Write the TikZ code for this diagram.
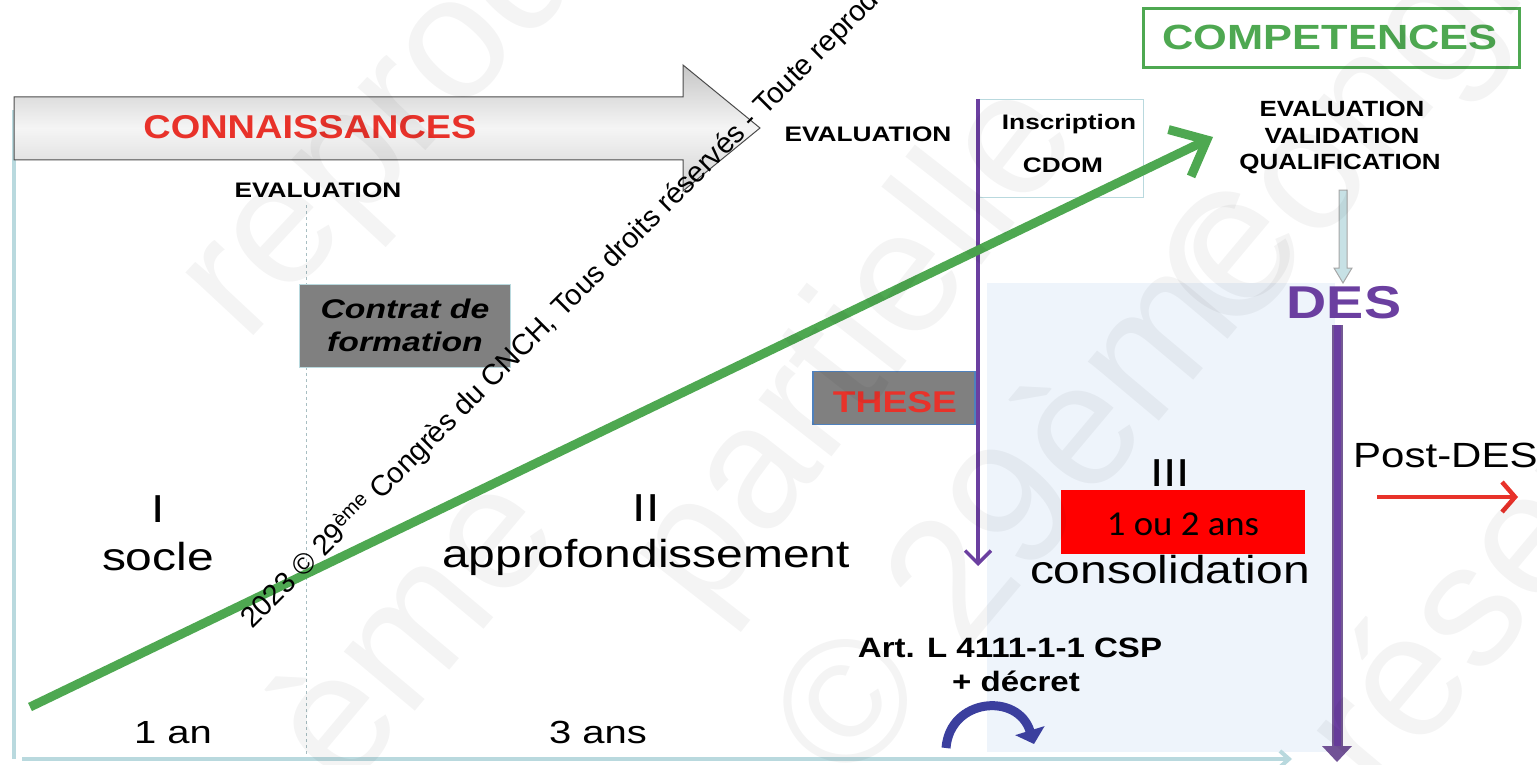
\documentclass[tikz,border=0pt]{standalone}
\usepackage{fontspec}
\setmainfont{Liberation Sans}
\newfontfamily\calib{Carlito}
\usetikzlibrary{arrows.meta}
\definecolor{cred}{HTML}{E8322A}
\definecolor{cgreen}{HTML}{4EA851}
\definecolor{cpurple}{HTML}{6B3FA0}
\definecolor{lblue}{HTML}{B9D9DE}
\definecolor{bgblue}{HTML}{EEF4FB}
\definecolor{tblue}{HTML}{4F81BD}
\definecolor{cgray}{HTML}{808080}
\definecolor{arcblue}{HTML}{3B3F9E}
\newcommand{\hs}[2]{\scalebox{#1}[1]{#2}}
\newcommand{\fs}[1]{\fontsize{#1}{#1}\selectfont}
\begin{document}
\begin{tikzpicture}[x=1pt,y=-1pt,
  lbl/.style={inner sep=0pt, anchor=base},
  bigtxt/.style={lbl, font=\fs{39}},
  boldtxt/.style={lbl, font=\bfseries\fs{21}},
  faint/.style={inner sep=0pt, anchor=base west, font=\fs{175}, text=black, text opacity=0.045},
]
\useasboundingbox (0,0) rectangle (1537,765);
\clip (0,0) rectangle (1537,765);

% consolidation background
\fill[bgblue] (987,283) rectangle (1335,752);

% axes
\coordinate (axtop) at (14,110);
\coordinate (axorig) at (14,759);
\coordinate (axend) at (1292,759);
\draw[lblue, line width=4] (axtop) -- (axorig);
\draw[lblue, line width=4, -{Straight Barb[length=9,width=16]}] (22,759) -- (axend);
\draw[lblue!70!gray, dashed, line width=0.8] (306,205) -- (306,755);

% big grey arrow
\shade[draw=gray!60!black, line width=1, top color=gray!45, bottom color=gray!35, middle color=gray!8]
  (14,97) -- (683,97) -- (683,65) -- (760,128) -- (683,191) -- (683,160) -- (14,160) -- cycle;
\node[lbl, font=\bfseries\fs{33}, text=cred] (conn) at (310,139) {\hs{1.15}{CONNAISSANCES}};

\node[boldtxt] (eval1) at (318,197) {\hs{1.25}{EVALUATION}};
\node[boldtxt] (eval2) at (868,142) {\hs{1.25}{EVALUATION}};

% Inscription box
\node[draw=lblue, line width=1.2, minimum width=166, minimum height=98, inner sep=0, anchor=north west] (insc) at (977,99) {};
\node[boldtxt] (inscr) at (1069,130) {\hs{1.25}{Inscription}};
\node[boldtxt] (cdom) at (1063,172) {\hs{1.25}{CDOM}};

% COMPETENCES
\node[draw=cgreen, line width=3, minimum width=376, minimum height=59, inner sep=0] (comp) at (1331,38) {};
\node[lbl, font=\bfseries\fs{35}, text=cgreen] (compt) at (1330,50) {\hs{1.24}{COMPETENCES}};

\node[lbl, font=\bfseries\fs{22}] (ev3) at (1342,117) {\hs{1.18}{EVALUATION}};
\node[lbl, font=\bfseries\fs{22}] (val) at (1342,143) {\hs{1.18}{VALIDATION}};
\node[lbl, font=\bfseries\fs{22}] (qual) at (1340,169) {\hs{1.18}{QUALIFICATION}};

% DES
\node[lbl, font=\bfseries\fs{46}, text=cpurple] (des) at (1344,318) {\hs{1.21}{DES}};

% small grey arrow qual -> des
\filldraw[fill=lblue!80!white, draw=gray!70, line width=1]
  (1339,190) -- (1347,190) -- (1347,268) -- (1352,268) -- (1343,283) -- (1334,268) -- (1339,268) -- cycle;

% thick purple arrow from DES
\coordinate (dtop) at (1337,325);
\coordinate (dbot) at (1337,748);
\draw[cpurple!60!gray, line width=11] (dtop) -- (dbot);
\draw[cpurple, line width=7] (dtop) -- (dbot);
\fill[cpurple!70!gray] (1322,746) -- (1352,746) -- (1337,762) -- cycle;

% Post-DES
\node[lbl, anchor=base west, font=\fs{35}] (post) at (1353,467) {\hs{1.2}{Post-DES}};
\coordinate (pa) at (1377,497);
\coordinate (pb) at (1518,497);
\draw[cred, line width=4.5, -{Straight Barb[length=13,width=30]}] (pa) -- (pb);

% purple thin arrow from inscription
\coordinate (it) at (978,99);
\coordinate (ib) at (978,566);
\draw[cpurple, line width=3.5, -{Straight Barb[length=13,width=26]}] (it) -- (ib);

% THESE
\node[fill=cgray, draw=tblue, line width=1.5, minimum width=162, minimum height=53, inner sep=0] (these) at (894,398) {};
\node[lbl, font=\bfseries\fs{30}, text=cred] (theset) at (895,412) {\hs{1.24}{THESE}};

% Contrat de formation
\node[fill=cgray, draw=lblue, line width=1.5, minimum width=211, minimum height=83, inner sep=0] (contrat) at (405,326) {};
\node[lbl, font=\bfseries\itshape\fs{27}] (c1) at (405,318) {\hs{1.25}{Contrat de}};
\node[lbl, font=\bfseries\itshape\fs{27}] (c2) at (405,351) {\hs{1.25}{formation}};

% phases
\node[bigtxt] (p1) at (158,522) {\hs{1.23}{I}};
\node[bigtxt] (s1) at (158,570) {\hs{1.23}{socle}};
\node[bigtxt] (p2) at (646,521) {\hs{1.23}{II}};
\node[bigtxt] (s2) at (646,567) {\hs{1.23}{approfondissement}};
\node[bigtxt] (p3) at (1170,486) {\hs{1.23}{III}};
\node[bigtxt] (s3) at (1170,583) {\hs{1.23}{consolidation}};

% red box
\node[fill=red, minimum width=244, minimum height=64, inner sep=0] (redbox) at (1183,522) {};
\node[lbl, font=\calib\fs{35}] (redt) at (1183,535) {\hs{1.05}{1 ou 2 ans}};

% durations
\node[lbl, font=\fs{32}] (d1) at (173,743) {\hs{1.25}{1 an}};
\node[lbl, font=\fs{32}] (d2) at (598,743) {\hs{1.25}{3 ans}};

% Art
\node[lbl, font=\bfseries\fs{28}] (art1) at (1010,657) {\hs{1.18}{Art. L 4111-1-1 CSP}};
\node[lbl, font=\bfseries\fs{28}] (art2) at (1016,691) {\hs{1.18}{+ décret}};
\coordinate (ca) at (946,748);
\coordinate (cb) at (1034,744);
\draw[arcblue, line width=9, -{Triangle[length=14,width=30]}] (ca) .. controls (950,698) and (1018,692) .. (cb);

% green arrow
\coordinate (ga) at (30,707);
\coordinate (gb) at (1213,137);
\draw[cgreen, line width=9, -{Straight Barb[length=30,width=52]}] (ga) -- (gb);

% watermark text
\node[inner sep=0, anchor=base west, rotate=45, font=\fs{29}] (wm) at (252,630)
  {2023 © 29\textsuperscript{ème} Congrès du CNCH, Tous droits réservés - Toute reproduction};

% faint background watermark
\node[faint, rotate=47] (f1) at (245,345) {reproduction};
\node[faint, rotate=52] (f2) at (705,620) {partielle};
\node[faint, rotate=50] (f3) at (850,790) {© 29ème};
\node[faint, rotate=50] (f4) at (345,795) {ème};
\node[faint, rotate=50] (f5) at (1235,345) {Congrès};
\node[faint, rotate=50] (f6) at (1380,800) {réservés};
\end{tikzpicture}
\end{document}
